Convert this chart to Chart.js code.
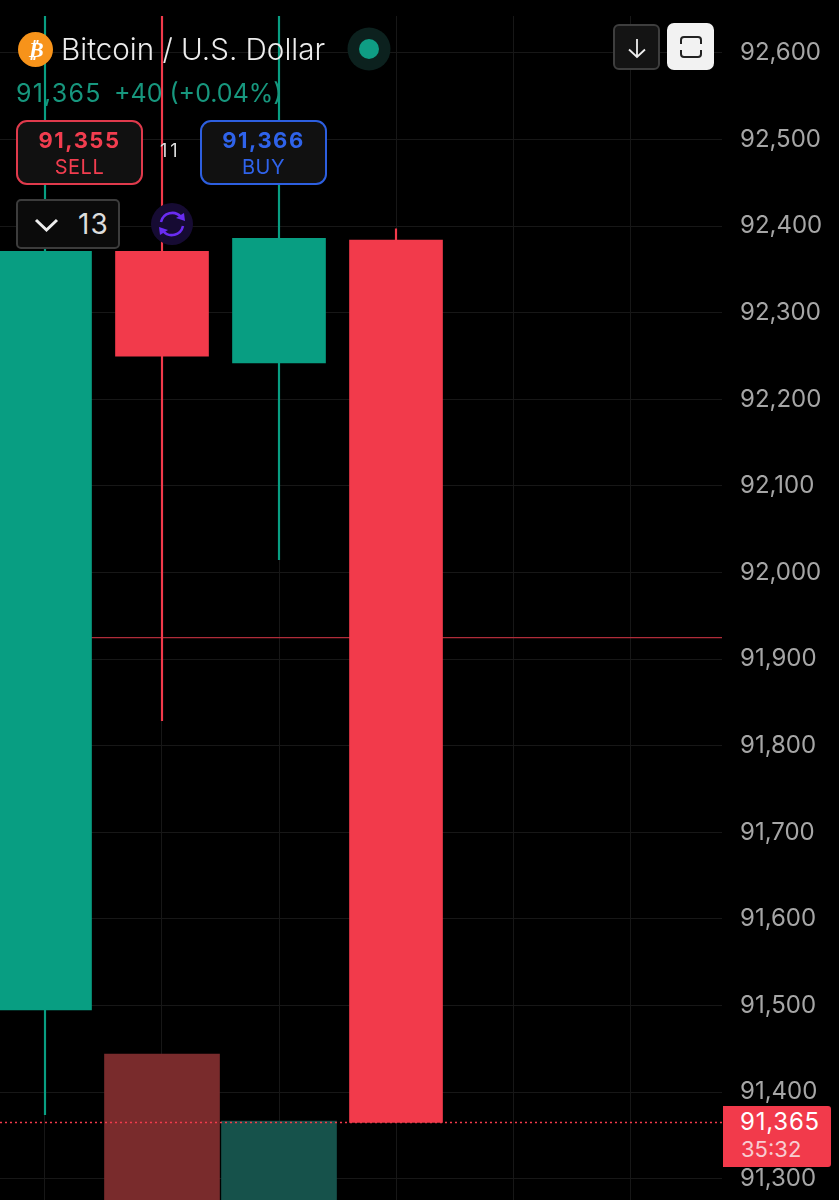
<!DOCTYPE html>
<html lang="en">

<head>
    <meta charset="UTF-8">
    <title>Bitcoin / U.S. Dollar</title>
    <script src="https://cdn.jsdelivr.net/npm/chart.js"></script>
    <style>
        html, body { margin: 0; background: #000; }
        body { position: relative; width: 839px; height: 1200px; overflow: hidden; font-family: Inter, sans-serif; }
        canvas { position: absolute; left: 0; top: 0; }
        .abs { position: absolute; white-space: nowrap; }
        .box { position: absolute; box-sizing: border-box; background: #111; text-align: center; }
        .order { left: 16px; top: 120px; width: 127px; height: 65px; border: 2px solid; border-radius: 11px; }
        .order b { position: absolute; left: 0; right: 0; top: 5px; font-size: 22px; font-weight: 700; line-height: 26px; letter-spacing: 1.5px; }
        .order span { position: absolute; left: 0; right: 0; top: 33px; font-size: 20px; line-height: 24px; letter-spacing: .5px; }
    </style>
</head>

<body>
    <canvas id="myChart" width="839" height="1200"></canvas>

    <svg class="abs" style="left:18px;top:32px" width="35" height="35" viewBox="0 0 35 35">
        <circle cx="17.5" cy="17.5" r="17.5" fill="#f7931a" />
    </svg>
    <div class="abs" style="left:18px;top:32px;width:35px;line-height:35px;text-align:center;color:#fff;font:italic bold 22px/35px 'DejaVu Sans'">₿</div>
    <div class="abs" id="title" style="left:61px;top:31px;font-size:29.6px;font-weight:300;line-height:36px;color:#ececec">Bitcoin / U.S. Dollar</div>
    <svg class="abs" style="left:347px;top:27px" width="44" height="44">
        <circle cx="22" cy="22" r="21.5" fill="#0c211e" />
        <circle cx="22" cy="22" r="10" fill="#0f9d84" />
    </svg>
    <div class="abs" style="left:16px;top:78px;font-size:25px;line-height:30px;letter-spacing:1.2px;color:#17977e">91,365</div>
    <div class="abs" style="left:114px;top:78px;font-size:25px;line-height:30px;color:#17977e">+40 (+0.04%)</div>

    <div class="box order" style="border-color:#e03a4c;color:#f23d4f"><b>91,355</b><span>SELL</span></div>
    <div class="abs" style="left:160px;top:139px;font-size:18px;line-height:24px;letter-spacing:3px;color:#ddd">11</div>
    <div class="box order" style="left:200px;border-color:#2d5fe0;color:#2f63ea"><b>91,366</b><span>BUY</span></div>

    <div class="box" style="left:16px;top:199px;width:104px;height:50px;border:2px solid #3c3c3c;border-radius:5px;background:#0b0b0b"></div>
    <svg class="abs" style="left:34px;top:217px" width="26" height="16">
        <polyline points="2,3 12.5,13 23,3" fill="none" stroke="#eee" stroke-width="3" />
    </svg>
    <div class="abs" style="left:78px;top:207px;font-size:28px;line-height:34px;letter-spacing:1px;color:#ddd">13</div>

    <svg class="abs" style="left:151px;top:203px" width="42" height="42" viewBox="0 0 42 42">
        <circle cx="21" cy="21" r="21" fill="#160b33" />
        <path d="M10 19 A11.5 11.5 0 0 1 30 14" fill="none" stroke="#6a2cf2" stroke-width="2.5" />
        <path d="M32 23 A11.5 11.5 0 0 1 12 28" fill="none" stroke="#6a2cf2" stroke-width="2.5" />
        <path d="M25 15 L34 18 L33 10 Z" fill="#6a2cf2" />
        <path d="M17 27 L8 24 L9 32 Z" fill="#6a2cf2" />
    </svg>

    <div class="box" style="left:613px;top:24px;width:47px;height:46px;border:2px solid #3e3e3e;border-radius:6px;background:#141414"></div>
    <svg class="abs" style="left:625px;top:36px" width="24" height="24">
        <path d="M12 3 V21 M4 13.5 L12 21 L20 13.5" fill="none" stroke="#eee" stroke-width="1.8" />
    </svg>
    <div class="box" style="left:667px;top:23px;width:47px;height:47px;border-radius:7px;background:#f2f2f2"></div>
    <svg class="abs" style="left:679px;top:35px" width="24" height="24">
        <path d="M2 9 V5 Q2 2 5 2 H19 Q22 2 22 5 V9" fill="none" stroke="#222" stroke-width="2" />
        <path d="M2 15 V19 Q2 22 5 22 H19 Q22 22 22 19 V15" fill="none" stroke="#222" stroke-width="2" />
    </svg>

    <div class="box" style="left:723px;top:1106px;width:108px;height:61px;background:#f23a4b;border-radius:0 3px 3px 0"></div>
    <div class="abs" style="left:740px;top:1107px;font-size:24px;line-height:30px;letter-spacing:.8px;color:#fff">91,365</div>
    <div class="abs" style="left:741px;top:1135px;font-size:22px;line-height:28px;color:#f8cdd1">35:32</div>
</body>

<script>

    const candles = [0, 1, 2, 3]
    const opens = [91495, 92371, 92242, 92384]
    const closes = [92371, 92250, 92386, 91365]
    const highs = [92643, 92643, 92643, 92397]
    const lows = [91374, 91829, 92015, 91365]
    const volumes = [146, 79]
    const volumeSlots = [1, 2]
    const volumeColors = ['rgba(126,45,46,0.96)', 'rgba(23,85,78,0.96)']
    const yTicks = [92600, 92500, 92400, 92300, 92200, 92100, 92000, 91900, 91800, 91700, 91600, 91500, 91400, 91300]
    const xTicks = [0, 1, 2, 3, 4, 5]
    const alertPrice = 91925
    const lastPrice = 91365

    const GREEN = '#089e82'
    const RED = '#f23a4b'
    const xMin = -0.3846
    const xMax = 5.7863

    const colorOf = (i) => closes[i] >= opens[i] ? GREEN : RED

    new Chart(document.getElementById('myChart'), {
        data: {
            datasets: [
                {
                    type: 'bar',
                    order: 5,
                    yAxisID: 'vol',
                    grouped: false,
                    barThickness: 115,
                    backgroundColor: volumeColors,
                    data: volumeSlots.map((x, i) => ({ x, y: volumes[i] }))
                },
                {
                    type: 'line',
                    order: 4,
                    borderColor: '#b02c3a',
                    borderWidth: 1.2,
                    pointRadius: 0,
                    data: [{ x: xMin, y: alertPrice }, { x: xMax, y: alertPrice }]
                },
                {
                    type: 'bar',
                    order: 3,
                    grouped: false,
                    barThickness: 1.5,
                    backgroundColor: candles.map(colorOf),
                    data: candles.map((x, i) => ({ x, y: [lows[i], highs[i]] }))
                },
                {
                    type: 'bar',
                    order: 2,
                    grouped: false,
                    barThickness: 93,
                    backgroundColor: candles.map(colorOf),
                    data: candles.map((x, i) => ({ x, y: [opens[i], closes[i]] }))
                },
                {
                    type: 'line',
                    order: 1,
                    borderColor: '#f23a4b',
                    borderWidth: 1.5,
                    borderDash: [2, 3],
                    pointRadius: 0,
                    data: [{ x: xMin, y: lastPrice }, { x: xMax, y: lastPrice }]
                }
            ]
        },
        options: {
            responsive: false,
            animation: false,
            layout: { padding: { top: 16 } },
            plugins: { legend: { display: false }, tooltip: { enabled: false } },
            scales: {
                x: {
                    type: 'linear',
                    offset: false,
                    min: xMin,
                    max: xMax,
                    border: { display: false },
                    grid: { color: '#171717', drawTicks: false, offset: false },
                    ticks: { display: false },
                    afterBuildTicks: (axis) => { axis.ticks = xTicks.map((value) => ({ value })) },
                    afterFit: (axis) => { axis.height = 0 }
                },
                y: {
                    position: 'right',
                    min: 91275.5,
                    max: 92642.7,
                    border: { display: false },
                    grid: { color: '#171717', drawTicks: false },
                    afterBuildTicks: (axis) => { axis.ticks = yTicks.map((value) => ({ value })) },
                    afterFit: (axis) => {
                        axis.width = 117
                        axis.paddingTop = 0
                        axis.paddingBottom = 0
                    },
                    ticks: {
                        padding: 18,
                        color: '#a6a6a6',
                        font: { family: 'Inter', size: 24 },
                        callback: (v) => v.toLocaleString('en-US')
                    }
                },
                vol: {
                    display: false,
                    min: 0,
                    max: 1184
                }
            }
        }
    })

</script>

</html>
